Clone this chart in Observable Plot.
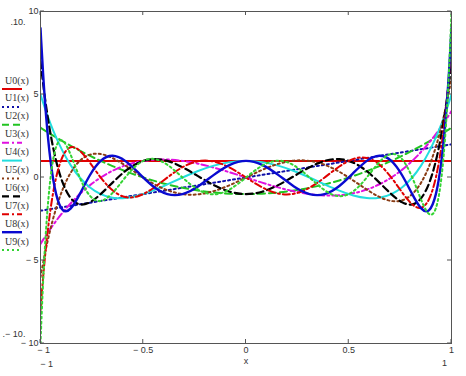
<!DOCTYPE html>
<html>
<head>
<meta charset="utf-8">
<script src="https://cdn.jsdelivr.net/npm/d3@7"></script>
<script src="https://cdn.jsdelivr.net/npm/@observablehq/plot@0.6"></script>
<style>
  html, body { margin: 0; padding: 0; background: #fff; }
  #chart { position: relative; width: 466px; height: 376px; }
</style>
</head>
<body>
<div id="chart"></div>
<script>
// sample abscissae
const xs = [-1, -0.9969, -0.9877, -0.9724, -0.9511, -0.9239, -0.8910, -0.8526, -0.8090, -0.7604, -0.7071, -0.6494, -0.5878, -0.5225, -0.4540, -0.3827, -0.3090, -0.2334, -0.1564, -0.0785,
  0,
  0.0785, 0.1564, 0.2334, 0.3090, 0.3827, 0.4540, 0.5225, 0.5878, 0.6494, 0.7071, 0.7604, 0.8090, 0.8526, 0.8910, 0.9239, 0.9511, 0.9724, 0.9877, 0.9969, 1];

const U0 = [1,1,1,1,1,1,1,1,1,1,1,1,1,1,1,1,1,1,1,1,1,1,1,1,1,1,1,1,1,1,1,1,1,1,1,1,1,1,1,1,1];
const U1 = [-2, -1.9938, -1.9754, -1.9447, -1.9021, -1.8478, -1.7820, -1.7053, -1.6180, -1.5208, -1.4142, -1.2989, -1.1756, -1.0450, -0.9080, -0.7654, -0.6180, -0.4669, -0.3129, -0.1569,
  0,
  0.1569, 0.3129, 0.4669, 0.6180, 0.7654, 0.9080, 1.0450, 1.1756, 1.2989, 1.4142, 1.5208, 1.6180, 1.7053, 1.7820, 1.8478, 1.9021, 1.9447, 1.9754, 1.9938, 2];
const U2 = [3, 2.9754, 2.9022, 2.7820, 2.6180, 2.4142, 2.1756, 1.9080, 1.6180, 1.3129, 1.0000, 0.6871, 0.3820, 0.0920, -0.1756, -0.4142, -0.6180, -0.7820, -0.9021, -0.9754,
  -1,
  -0.9754, -0.9021, -0.7820, -0.6180, -0.4142, -0.1756, 0.0920, 0.3820, 0.6871, 1.0000, 1.3129, 1.6180, 1.9080, 2.1756, 2.4142, 2.6180, 2.7820, 2.9022, 2.9754, 3];
const U3 = [-4, -3.9385, -3.7574, -3.4656, -3.0777, -2.6131, -2.0949, -1.5484, -1.0000, -0.4758, 0, 0.4064, 0.7266, 0.9488, 1.0674, 1.0824, 1.0000, 0.8320, 0.5951, 0.3100,
  0,
  -0.3100, -0.5951, -0.8320, -1.0000, -1.0824, -1.0674, -0.9488, -0.7266, -0.4064, 0, 0.4758, 1.0000, 1.5484, 2.0949, 2.6131, 3.0777, 3.4656, 3.7574, 3.9385, 4];
const U4 = [5, 4.8773, 4.5202, 3.9575, 3.2361, 2.4142, 1.5576, 0.7324, 0, -0.5893, -1, -1.2150, -1.2361, -1.0835, -0.7936, -0.4142, 0, 0.3935, 0.7159, 0.9267,
  1,
  0.9267, 0.7159, 0.3935, 0, -0.4142, -0.7936, -1.0835, -1.2361, -1.2150, -1, -0.5893, 0, 0.7324, 1.5576, 2.4142, 3.2361, 3.9575, 4.5202, 4.8773, 5];
const U5 = [-6, -5.7861, -5.1717, -4.2309, -3.0777, -1.8478, -0.6807, 0.2994, 1.0000, 1.3720, 1.4142, 1.1718, 0.7266, 0.1835, -0.3468, -0.7654, -1.0000, -1.0157, -0.8191, -0.4554,
  0,
  0.4554, 0.8191, 1.0157, 1.0000, 0.7654, 0.3468, -0.1835, -0.7266, -1.1718, -1.4142, -1.3720, -1.0000, -0.2994, 0.6807, 1.8478, 3.0777, 4.2309, 5.1717, 5.7861, 6];
const U6 = [7, 6.6593, 5.6958, 4.2704, 2.6180, 1.0000, -0.3446, -1.2430, -1.6180, -1.4973, -1, -0.3070, 0.3820, 0.8918, 1.1085, 1.0000, 0.6180, 0.0807, -0.4597, -0.8553,
  -1,
  -0.8553, -0.4597, 0.0807, 0.6180, 1.0000, 1.1085, 0.8918, 0.3820, -0.3070, -1, -1.4973, -1.6180, -1.2430, -0.3446, 1.0000, 2.6180, 4.2704, 5.6958, 6.6593, 7];
const U7 = [-8, -7.4914, -6.0797, -4.0740, -1.9021, 0, 1.2947, 1.8202, 1.6180, 0.9051, 0, -0.7730, -1.1756, -1.1154, -0.6597, 0, 0.6180, 0.9781, 0.9630, 0.5896,
  0,
  -0.5896, -0.9630, -0.9781, -0.6180, 0, 0.6597, 1.1154, 1.1756, 0.7730, 0, -0.9051, -1.6180, -1.8202, -1.2947, 0, 1.9021, 4.0740, 6.0797, 7.4914, 8];
const U8 = [9, 8.2772, 6.3138, 3.6524, 1.0000, -1.0000, -1.9626, -1.8610, -1.0000, 0.1208, 1, 1.3110, 1.0000, 0.2738, -0.5095, -1.0000, -1.0000, -0.5373, 0.1584, 0.7628,
  1,
  0.7628, 0.1584, -0.5373, -1.0000, -1.0000, -0.5095, 0.2738, 1.0000, 1.3110, 1, 0.1208, -1.0000, -1.8610, -1.9626, -1.0000, 1.0000, 3.6524, 6.3138, 8.2772, 9];
const U9 = [-10, -9.0121, -6.3925, -3.0290, 0, 1.8478, 2.2027, 1.3533, 0, -1.0888, -1.4142, -0.9299, 0, 0.8293, 1.1223, 0.7654, 0, -0.7272, -1.0125, -0.7093,
  0,
  0.7093, 1.0125, 0.7272, 0, -0.7654, -1.1223, -0.8293, 0, 0.9299, 1.4142, 1.0888, 0, -1.3533, -2.2027, -1.8478, 0, 3.0290, 6.3925, 9.0121, 10];

const seriesNames = ["U0(x)", "U1(x)", "U2(x)", "U3(x)", "U4(x)", "U5(x)", "U6(x)", "U7(x)", "U8(x)", "U9(x)"];
const seriesValues = [U0, U1, U2, U3, U4, U5, U6, U7, U8, U9];

const xTicks = [-1, -0.5, 0, 0.5, 1];
const xTickLabels = ["\u2212 1", "\u2212 0.5", "0", "0.5", "1"];
const yTicks = [-10, -5, 0, 5, 10];
const yTickLabels = ["\u2212 10", "\u2212 5", "0", "5", "10"];

// styles
const styles = [
  {stroke: "#e00000", dash: null, w: 2},
  {stroke: "#1010a8", dash: "2,3", w: 2},
  {stroke: "#22c422", dash: "7,4", w: 2},
  {stroke: "#e010e0", dash: "7,3,2,3", w: 2},
  {stroke: "#22dede", dash: null, w: 2},
  {stroke: "#8a3c14", dash: "2,3", w: 2},
  {stroke: "#000000", dash: "7,4", w: 2.2},
  {stroke: "#e00000", dash: "7,3,2,3", w: 2},
  {stroke: "#0a0ad0", dash: null, w: 2.4},
  {stroke: "#33d433", dash: "2,3", w: 2}
];

const lineMarks = seriesValues.map((vals, i) => {
  const data = xs.map((x, j) => ({x, y: vals[j]}));
  return Plot.line(data, {
    x: "x", y: "y",
    stroke: styles[i].stroke,
    strokeWidth: styles[i].w,
    strokeDasharray: styles[i].dash,
    curve: "natural",
    clip: true
  });
});

const chartPlot = Plot.plot({
  width: 466,
  height: 376,
  marginLeft: 40,
  marginRight: 15,
  marginTop: 11,
  marginBottom: 33,
  style: {background: "#fff", fontFamily: "'Liberation Sans', Arial, sans-serif", fontSize: "9px", color: "#333"},
  x: {domain: [-1, 1]},
  y: {domain: [-10, 10]},
  marks: [
    ...lineMarks,
    Plot.frame({stroke: "#555", strokeWidth: 1}),
    Plot.axisX({ticks: xTicks, tickSize: 0, tickPadding: 3, tickFormat: (d) => xTickLabels[xTicks.indexOf(d)], label: null, fontSize: 9}),
    Plot.axisY({ticks: yTicks, tickSize: 0, tickPadding: 2, tickFormat: (d) => yTickLabels[yTicks.indexOf(d)], label: null, fontSize: 9}),
    Plot.text(["x"], {frameAnchor: "bottom", dy: 20, fontSize: 9, fill: "#333"}),
    Plot.text(["\u2212 1"], {x: [-1], frameAnchor: "bottom", dy: 23, dx: 6, fontSize: 9, fill: "#333"}),
    Plot.text(["1"], {x: [1], frameAnchor: "bottom", dy: 22, dx: -7, fontSize: 9, fill: "#333"})
  ]
});

document.getElementById("chart").appendChild(chartPlot);

// shift the -1 tick label slightly right like the reference
d3.select(chartPlot).selectAll("g[aria-label='x-axis tick label'] text")
  .filter(function () { return this.textContent === "\u2212 1"; })
  .attr("dx", 3);

// inward ticks and legend (pixel decorations)
const svgSel = d3.select(chartPlot);
const sx = chartPlot.scale("x"), sy = chartPlot.scale("y");
const tg = svgSel.append("g").attr("stroke", "#555").attr("stroke-width", 1);
const pxLeft = sx.apply(-1), pxRight = sx.apply(1), pxTop = sy.apply(10), pxBottom = sy.apply(-10);
yTicks.forEach(v => {
  const yy = sy.apply(v);
  tg.append("line").attr("x1", pxLeft).attr("x2", pxLeft + 4).attr("y1", yy).attr("y2", yy);
  tg.append("line").attr("x1", pxRight).attr("x2", pxRight - 4).attr("y1", yy).attr("y2", yy);
});
xTicks.forEach(v => {
  const xx = sx.apply(v);
  tg.append("line").attr("x1", xx).attr("x2", xx).attr("y1", pxBottom).attr("y2", pxBottom - 4);
  tg.append("line").attr("x1", xx).attr("x2", xx).attr("y1", pxTop).attr("y2", pxTop + 4);
});

// range limit markers
svgSel.append("text").attr("x", 18).attr("y", 25).attr("text-anchor", "middle")
  .attr("font-family", "'Liberation Sans', Arial, sans-serif").attr("font-size", 9).attr("fill", "#333").text(".10.");
svgSel.append("text").attr("x", 14).attr("y", 337).attr("text-anchor", "middle")
  .attr("font-family", "'Liberation Sans', Arial, sans-serif").attr("font-size", 9).attr("fill", "#333").text(".\u2212 10.");

// legend
const lg = svgSel.append("g").attr("text-anchor", "start");
seriesNames.forEach((name, i) => {
  const yl = 89 + i * 17.9;
  lg.append("text").attr("x", 5).attr("y", yl - 5.5).attr("text-anchor", "start")
    .attr("font-family", "'Liberation Serif', 'Times New Roman', serif").attr("font-size", 10)
    .attr("fill", "#333").text(name);
  lg.append("line").attr("x1", 2).attr("x2", 22).attr("y1", yl).attr("y2", yl)
    .attr("stroke", styles[i].stroke).attr("stroke-width", styles[i].w)
    .attr("stroke-dasharray", styles[i].dash);
});
</script>
</body>
</html>
